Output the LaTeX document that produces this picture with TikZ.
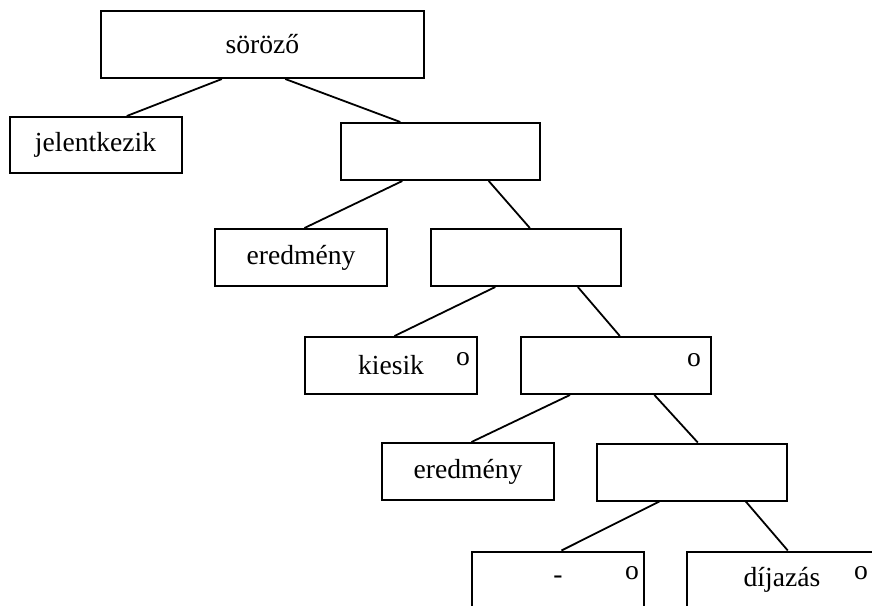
\documentclass[tikz,border=0pt]{standalone}
\usepackage{fontspec}
\setmainfont{Liberation Serif}
\usetikzlibrary{calc}

\begin{document}
\begin{tikzpicture}[
  x=0.5pt, y=-0.5pt,
  font=\fontsize{13.8}{16}\selectfont,
  edge/.style={line width=0.9pt, draw=black},
  box/.style={draw=black, line width=1pt, inner sep=0pt,
              minimum height=28.5pt, fill=white},
  leaf/.style={box, minimum width=86pt},
  inner/.style={box, minimum width=95pt},
  omark/.style={inner sep=0pt}
]
\useasboundingbox (0,0) rectangle (872,605);
\clip (0,0) rectangle (872,605);
% tree nodes
\node[box, minimum width=161.5pt, minimum height=33.5pt] (root) at (262.5,44.5) {söröző};
\node[leaf, minimum height=28pt] (jel)  at (95.5,145)   {jelentkezik};
\node[box, minimum width=99.5pt] (n1)   at (440.5,151.5) {};
\node[leaf]  (ered1) at (301,257.5) {eredmény};
\node[inner] (n2)    at (526,257.5) {};
\node[leaf]  (kies)  at (391,365.5) {kiesik};
\node[inner] (n3)    at (616,365.5) {};
\node[leaf]  (ered2) at (468,471.5) {eredmény};
\node[inner] (n4)    at (692,472)   {};
\node[leaf]  (dash)  at (558,580)   {-};
\node[inner] (dij)   at (782,580)   {díjazás};
% o marks
\node[omark] (kieso) at ($(kies.north east)+(-15,23)$) {o};
\node[omark] (n3o)   at ($(n3.north east)+(-18,24)$)   {o};
\node[omark] (dasho) at ($(dash.north east)+(-13,23)$) {o};
\node[omark] (dijo)  at ($(dij.north east)+(-17,23)$)  {o};
% connectors
\draw[edge] ($(root.south west)!.375!(root.south east)$) -- ($(jel.north west)!.68!(jel.north east)$);
\draw[edge] ($(root.south west)!.57!(root.south east)$)  -- ($(n1.north west)!.30!(n1.north east)$);
\draw[edge] ($(n1.south west)!.31!(n1.south east)$) -- ($(ered1.north west)!.52!(ered1.north east)$);
\draw[edge] ($(n1.south west)!.74!(n1.south east)$) -- ($(n2.north west)!.52!(n2.north east)$);
\draw[edge] ($(n2.south west)!.34!(n2.south east)$) -- ($(kies.north west)!.52!(kies.north east)$);
\draw[edge] ($(n2.south west)!.77!(n2.south east)$) -- ($(n3.north west)!.52!(n3.north east)$);
\draw[edge] ($(n3.south west)!.26!(n3.south east)$) -- ($(ered2.north west)!.52!(ered2.north east)$);
\draw[edge] ($(n3.south west)!.70!(n3.south east)$) -- ($(n4.north west)!.53!(n4.north east)$);
\draw[edge] ($(n4.south west)!.33!(n4.south east)$) -- ($(dash.north west)!.52!(dash.north east)$);
\draw[edge] ($(n4.south west)!.78!(n4.south east)$) -- ($(dij.north west)!.53!(dij.north east)$);
\end{tikzpicture}
\end{document}
